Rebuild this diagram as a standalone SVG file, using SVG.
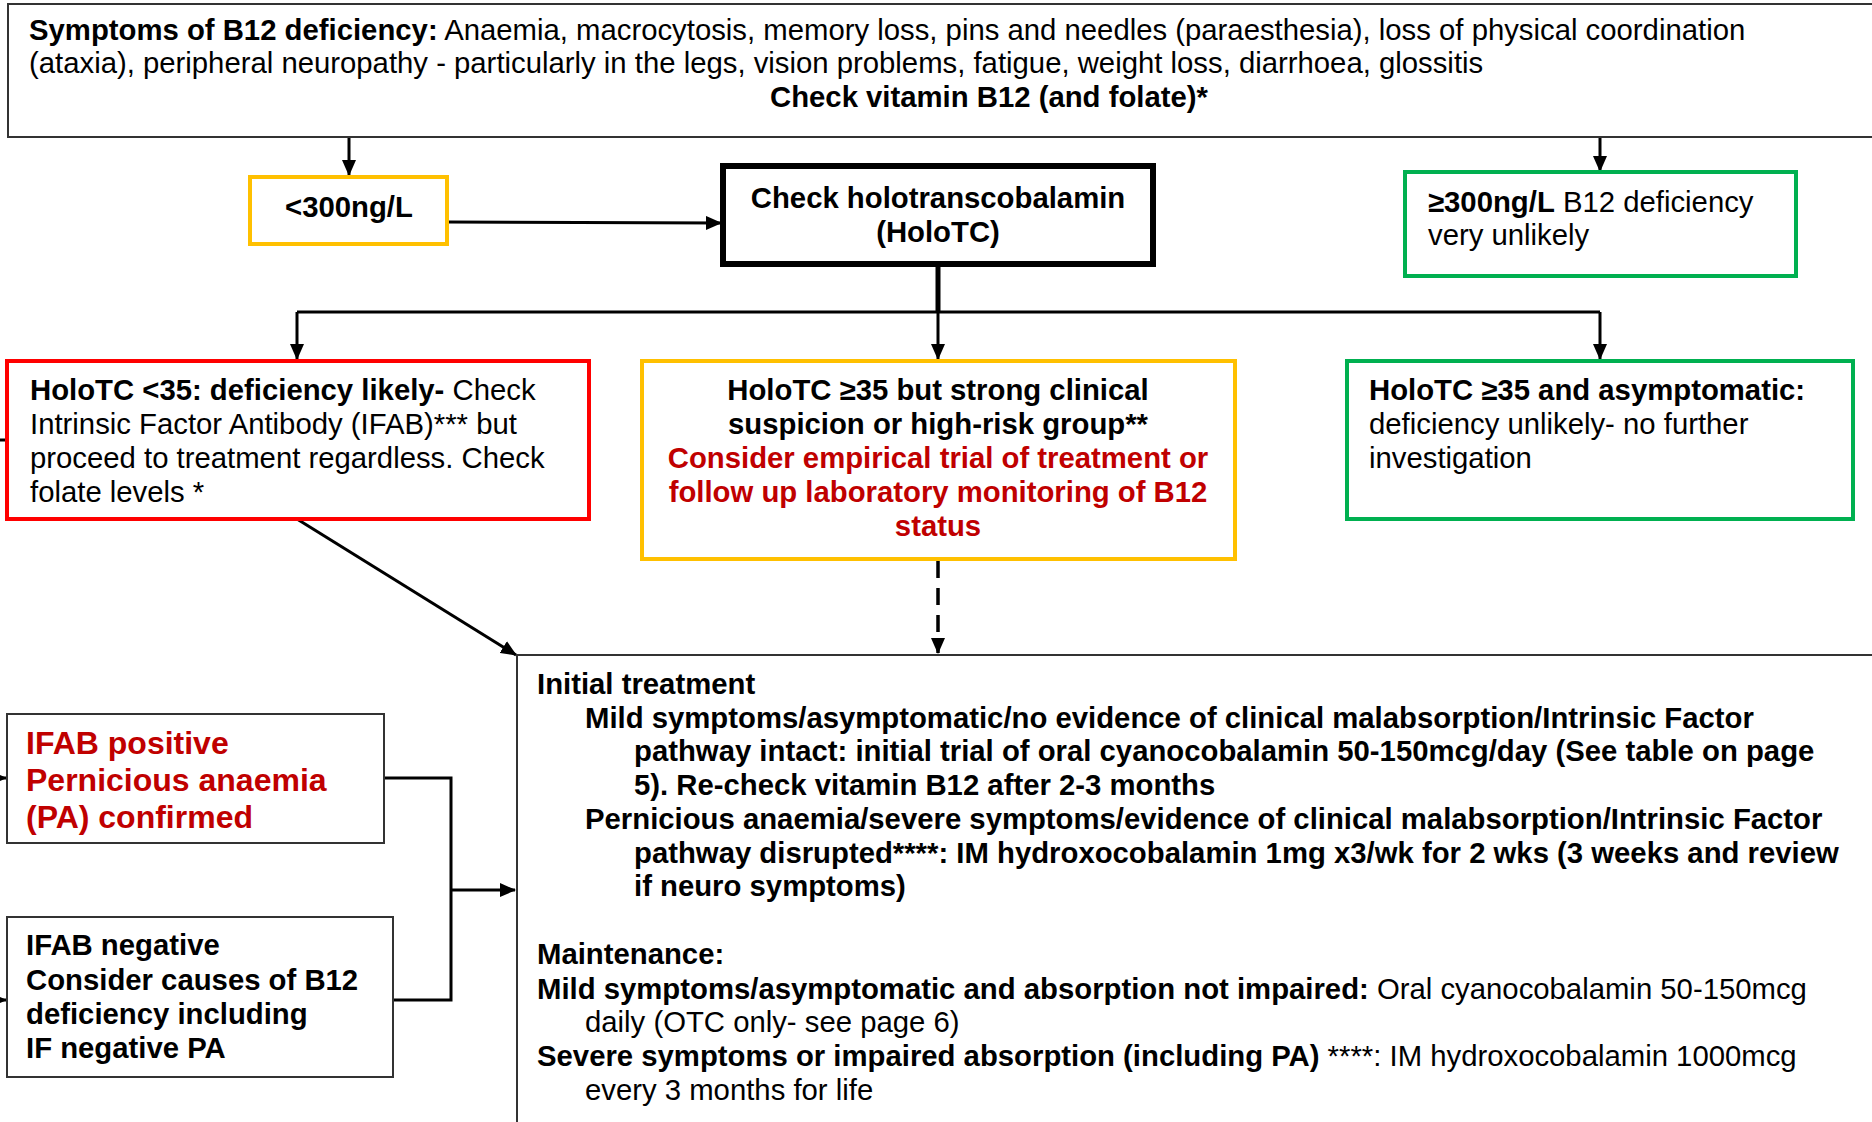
<svg xmlns="http://www.w3.org/2000/svg" width="1872" height="1122" viewBox="0 0 1872 1122">
<style>
text{font-family:"Liberation Sans",Arial,sans-serif;font-size:29.3px;fill:#000}
.b{font-weight:bold}
.r{font-weight:normal}
.red{fill:#C00000;font-weight:bold}
.c{text-anchor:middle}
.plain{fill:#fff;stroke:#333;stroke-width:2}
.yel{fill:#fff;stroke:#FFC000;stroke-width:4}
.grn{fill:#fff;stroke:#00B050;stroke-width:4}
.rd{fill:#fff;stroke:#FF0000;stroke-width:4}
.blk{fill:#fff;stroke:#000;stroke-width:6}
.ln{fill:none;stroke:#000;stroke-width:3}
</style>
<defs>
<marker id="ah" markerUnits="userSpaceOnUse" markerWidth="16" markerHeight="14" refX="15" refY="7" orient="auto">
<path d="M0,0 L16,7 L0,14 Z" fill="#000"/>
</marker>
</defs>
<rect width="1872" height="1122" fill="#fff"/>

<g id="connectors">
<path class="ln" d="M349,137 V175" marker-end="url(#ah)"/>
<path class="ln" d="M1600,137 V171" marker-end="url(#ah)"/>
<path class="ln" d="M447,222 L721,223" marker-end="url(#ah)"/>
<path d="M938,264 V312" fill="none" stroke="#000" stroke-width="5"/>
<path class="ln" d="M297,312 H1600"/>
<path class="ln" d="M297,312 V359" marker-end="url(#ah)"/>
<path class="ln" d="M938,312 V359" marker-end="url(#ah)"/>
<path class="ln" d="M1600,312 V359" marker-end="url(#ah)"/>
<path class="ln" d="M297,519 L516,655" marker-end="url(#ah)"/>
<path d="M938,561 V653" fill="none" stroke="#000" stroke-width="3.5" stroke-dasharray="17,10" marker-end="url(#ah)"/>
<path class="ln" d="M384,778 H451 V1000 H393"/>
<path class="ln" d="M451,890 H515" marker-end="url(#ah)"/>
<path class="ln" d="M7,440 H-12 V778 H6" marker-end="url(#ah)"/>
<path class="ln" d="M-12,778 V1000 H6" marker-end="url(#ah)"/>
</g>

<g id="symptoms">
<rect class="plain" x="8" y="4" width="1900" height="133"/>
<text x="29" y="40"><tspan class="b">Symptoms of B12 deficiency:</tspan> Anaemia, macrocytosis, memory loss, pins and needles (paraesthesia), loss of physical coordination</text>
<text x="29" y="73">(ataxia), peripheral neuropathy - particularly in the legs, vision problems, fatigue, weight loss, diarrhoea, glossitis</text>
<text class="b" x="770" y="107">Check vitamin B12 (and folate)*</text>
</g>

<g id="low300">
<rect class="yel" x="250" y="177" width="197" height="67"/>
<text class="b c" x="349" y="217">&lt;300ng/L</text>
</g>

<g id="checkholotc">
<rect class="blk" x="723" y="166" width="430" height="98"/>
<text class="b c" x="938" y="208">Check holotranscobalamin</text>
<text class="b c" x="938" y="242">(HoloTC)</text>
</g>

<g id="high300">
<rect class="grn" x="1405" y="172" width="391" height="104"/>
<text x="1428" y="212"><tspan class="b">≥300ng/L</tspan> B12 deficiency</text>
<text x="1428" y="245">very unlikely</text>
</g>

<g id="holotc-low">
<rect class="rd" x="7" y="361" width="582" height="158"/>
<text x="30" y="400"><tspan class="b">HoloTC &lt;35: deficiency likely-</tspan> Check</text>
<text x="30" y="434">Intrinsic Factor Antibody (IFAB)*** but</text>
<text x="30" y="468">proceed to treatment regardless. Check</text>
<text x="30" y="502">folate levels *</text>
</g>

<g id="holotc-suspicion">
<rect class="yel" x="642" y="361" width="593" height="198"/>
<text class="b c" x="938" y="400">HoloTC ≥35 but strong clinical</text>
<text class="b c" x="938" y="434">suspicion or high-risk group**</text>
<text class="red c" x="938" y="468">Consider empirical trial of treatment or</text>
<text class="red c" x="938" y="502">follow up laboratory monitoring of B12</text>
<text class="red c" x="938" y="536">status</text>
</g>

<g id="holotc-asymptomatic">
<rect class="grn" x="1347" y="361" width="506" height="158"/>
<text class="b" x="1369" y="400">HoloTC ≥35 and asymptomatic:</text>
<text x="1369" y="434">deficiency unlikely- no further</text>
<text x="1369" y="468">investigation</text>
</g>

<g id="ifab-positive">
<rect class="plain" x="7" y="714" width="377" height="129"/>
<text class="red" x="26" y="754" style="font-size:32px">IFAB positive</text>
<text class="red" x="26" y="791" style="font-size:32px">Pernicious anaemia</text>
<text class="red" x="26" y="828" style="font-size:32px">(PA) confirmed</text>
</g>

<g id="ifab-negative">
<rect class="plain" x="7" y="917" width="386" height="160"/>
<text class="b" x="26" y="955">IFAB negative</text>
<text class="b" x="26" y="990">Consider causes of B12</text>
<text class="b" x="26" y="1024">deficiency including</text>
<text class="b" x="26" y="1058">IF negative PA</text>
</g>

<g id="treatment">
<rect class="plain" x="517" y="655" width="1400" height="500"/>
<text class="b" x="537" y="694">Initial treatment</text>
<text class="b" x="585" y="728">Mild symptoms/asymptomatic/no evidence of clinical malabsorption/Intrinsic Factor</text>
<text class="b" x="634" y="761">pathway intact: initial trial of oral cyanocobalamin 50-150mcg/day (See table on page</text>
<text class="b" x="634" y="795">5). Re-check vitamin B12 after 2-3 months</text>
<text class="b" x="585" y="829">Pernicious anaemia/severe symptoms/evidence of clinical malabsorption/Intrinsic Factor</text>
<text class="b" x="634" y="863">pathway disrupted****: IM hydroxocobalamin 1mg x3/wk for 2 wks (3 weeks and review</text>
<text class="b" x="634" y="896">if neuro symptoms)</text>
<text class="b" x="537" y="964">Maintenance:</text>
<text x="537" y="999"><tspan class="b">Mild symptoms/asymptomatic and absorption not impaired:</tspan> Oral cyanocobalamin 50-150mcg</text>
<text x="585" y="1032">daily (OTC only- see page 6)</text>
<text x="537" y="1066"><tspan class="b">Severe symptoms or impaired absorption (including PA)</tspan> ****: IM hydroxocobalamin 1000mcg</text>
<text x="585" y="1100">every 3 months for life</text>
</g>
</svg>
